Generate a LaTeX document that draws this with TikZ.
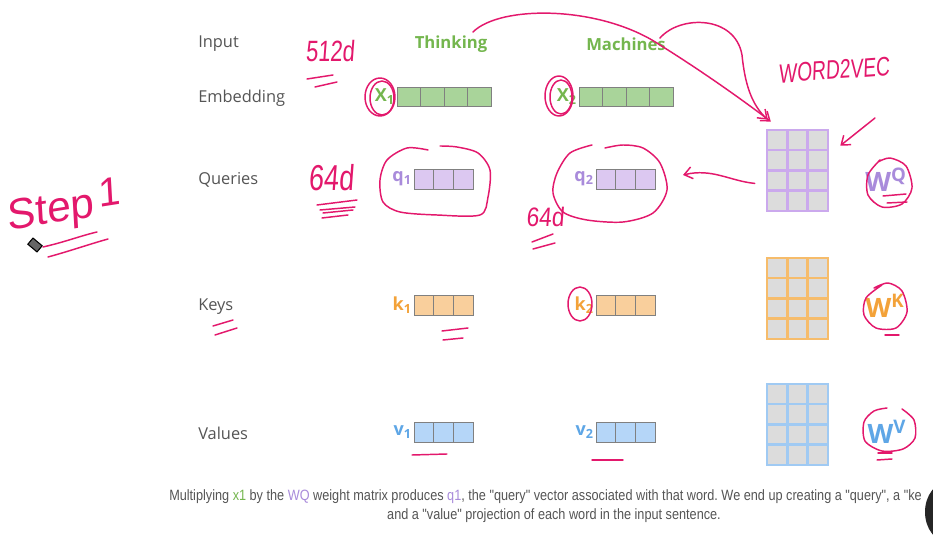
\documentclass[tikz,border=0pt]{standalone}
\usepackage{fontspec}
\setmainfont{Open Sans}
\newfontfamily\capfont[FakeStretch=0.85]{Liberation Sans}
\newfontfamily\handfont[FakeSlant=0.1]{Liberation Sans}
\usetikzlibrary{arrows.meta}
\frenchspacing

\definecolor{labgray}{HTML}{555555}
\definecolor{wordgreen}{HTML}{74B64E}
\definecolor{embfill}{HTML}{A9D49A}
\definecolor{qtext}{HTML}{A98BDB}
\definecolor{qfill}{HTML}{DCC8F1}
\definecolor{qframe}{HTML}{CBA9ED}
\definecolor{ktext}{HTML}{F3A239}
\definecolor{kfill}{HTML}{F9CF9C}
\definecolor{kframe}{HTML}{F6BC6B}
\definecolor{vtext}{HTML}{5EA6E6}
\definecolor{vfill}{HTML}{B5D6F8}
\definecolor{vframe}{HTML}{A0CAF3}
\definecolor{cellgray}{HTML}{DCDCDC}
\definecolor{inkpink}{HTML}{E3186C}

\begin{document}
\begin{tikzpicture}[x=0.75pt,y=-0.75pt,
    rowlabel/.style={anchor=west,text=labgray,inner sep=0pt,font=\fontsize{12.3}{14}\selectfont},
    word/.style={text=wordgreen,font=\fontsize{12.5}{14}\selectfont\bfseries},
    cell/.style={draw=black!50,line width=0.7pt,inner sep=0pt,outer sep=0pt},
    veclabel/.style={anchor=east,inner sep=1.5pt,font=\fontsize{13.5}{15}\selectfont\bfseries},
    mcell/.style={fill=cellgray,line width=1.8pt,inner sep=0pt,minimum width=15.2pt,minimum height=15.1pt},
    wlabel/.style={font=\fontsize{20}{22}\selectfont\bfseries},
    caption/.style={text=labgray,inner sep=0pt,font=\capfont\fontsize{11.2}{13}\selectfont},
    ink/.style={draw=inkpink,line width=1.1pt,line cap=round,line join=round},
    inkarrow/.style={ink,-{Straight Barb[length=6pt,width=9pt]}},
    inktext/.style={text=inkpink,inner sep=0pt}]
    \useasboundingbox (0,0) rectangle (933,538);
    \clip (0,0) rectangle (933,538);
    \fill[white] (0,0) rectangle (933,538);
    % rows
        \foreach \name/\y/\txt in {lin/44/Input,lemb/98/Embedding,lq/180/Queries,lk/307/Keys,lv/433/Values}{
            \node[rowlabel] (\name) at (198,\y) {\txt};
        }
        \node[word] (wThinking) at (451,44) {Thinking};
        \node[word] (wMachines) at (626,44) {Machines};
    % embeddings
        \foreach \n/\x in {1/397,2/579}{
            \foreach \i in {0,...,3}
                \node[cell,fill=embfill,minimum width=17.6pt,minimum height=14.3pt] (x\n-\i) at ({\x+11.75+23.5*\i},97) {};
            \node[veclabel,text=wordgreen] (x\n) at (x\n-0.west) {X\textsubscript{\n}};
        }
    % queries, keys, values
        \foreach \r/\y/\fc/\tc in {q/179/qfill/qtext,k/305/kfill/ktext,v/432/vfill/vtext}{
            \foreach \n/\x in {1/414,2/596}{
                \foreach \i in {0,1,2}
                    \node[cell,fill=\fc,minimum width=14.8pt,minimum height=15pt] (\r\n-\i) at ({\x+9.85+19.7*\i},\y) {};
                \node[veclabel,text=\tc] (\r\n) at (\r\n-0.west) {\r\textsubscript{\n}};
            }
        }
    % weight matrices
        \foreach \m/\y/\fr in {wq/130/qframe,wk/258/kframe,wv/384/vframe}{
            \foreach \row in {0,...,3}
                \foreach \col in {0,1,2}
                    \node[mcell,draw=\fr] (\m-\row\col) at ({777.2+20.3*\col},{\y+10.1+20.2*\row}) {};
            \node[inner sep=0pt,minimum width=45.75pt,minimum height=60.6pt] (\m) at (797.5,{\y+40.4}) {};
        }
        \node[wlabel,text=qtext] (wqlab) at (886,180) {W\textsuperscript{Q}};
        \node[wlabel,text=ktext] (wklab) at (885,306) {W\textsuperscript{K}};
        \node[wlabel,text=vtext] (wvlab) at (887,432) {W\textsuperscript{V}};
    % caption
        \node[caption,anchor=west] (cap1) at (169,497)
            {Multiplying \textcolor{wordgreen}{x1} by the \textcolor{qtext}{WQ} weight matrix produces \textcolor{qtext}{q1}, the "query" vector associated with that word. We end up creating a "query", a "ke};
        \node[caption] (cap2) at (554,516)
            {and a "value" projection of each word in the input sentence.};
        \fill[black!85] (948,512) ellipse [x radius=23, y radius=30];
    % handwriting
        \node[inktext,font=\handfont\fontsize{22}{24}\selectfont,xscale=0.75] (t512) at (330,51) {512d};
        \node[inktext,font=\handfont\fontsize{27}{29}\selectfont,xscale=0.75] (t64a) at (331,178) {64d};
        \node[inktext,font=\handfont\fontsize{20}{22}\selectfont,xscale=0.85] (t64b) at (545,217) {64d};
        \node[inktext,font=\handfont\fontsize{20}{22}\selectfont,xscale=0.72,rotate=3] (tw2v) at (834,70) {WORD2VEC};
        \node[inktext,font=\handfont\fontsize{32}{34}\selectfont,rotate=9] (tstep) at (50,213) {Step};
        \node[inktext,font=\handfont\fontsize{30}{32}\selectfont,rotate=9] (tone) at (108,192) {1};
        \node[draw=black,fill=black!60,line width=0.8pt,minimum width=6pt,minimum height=9pt,inner sep=0pt,rotate=50] (eraser) at (35,245) {};
    % circles
        \draw[ink] (380,97) ellipse [x radius=15, y radius=19];
        \draw[ink] (382,98) ellipse [x radius=12, y radius=17];
        \draw[ink] (559,96) ellipse [x radius=14, y radius=20];
        \draw[ink] (561,97) ellipse [x radius=11, y radius=17];
        \draw[ink] (580,304) ellipse [x radius=12, y radius=17];
        \draw[ink] plot[smooth] coordinates {(428,150) (407,148) (387,160) (380,180) (383,202) (400,212) (437,215) (480,215) (488,197) (490,170) (478,153) (457,147) (440,146)};
        \draw[ink] plot[smooth] coordinates {(592,145) (570,153) (557,173) (553,193) (563,212) (587,220) (623,222) (653,213) (667,190) (660,163) (643,148) (623,145) (605,148)};
        \draw[ink] plot[smooth] coordinates {(880,160) (868,175) (868,195) (882,207) (902,204) (912,188) (906,166) (890,158) (878,162)};
        \draw[ink] plot[smooth] coordinates {(882,285) (866,298) (864,315) (876,328) (896,328) (907,312) (902,291) (888,283) (874,288)};
        \draw[ink] plot[smooth] coordinates {(902,409) (914,420) (915,438) (903,449) (882,451) (865,441) (864,422) (874,411) (887,408)};
    % underlines
        \draw[ink] (307,79) -- (333,75);
        \draw[ink] (315,87) -- (337,82);
        \draw[ink] (317,205) -- (357,200);
        \draw[ink] (320,210) -- (355,207);
        \draw[ink] (323,213) -- (353,210);
        \draw[ink] (322,218) -- (348,215);
        \draw[ink] (532,242) -- (553,234);
        \draw[ink] (533,249) -- (555,243);
        \draw[ink] (43,247) .. controls (65,242) and (80,236) .. (97,232);
        \draw[ink] (48,257) .. controls (70,251) and (90,244) .. (108,239);
        \draw[ink] (213,326) -- (233,320);
        \draw[ink] (215,335) -- (237,328);
        \draw[ink] (442,331) -- (468,328);
        \draw[ink] (443,340) -- (463,338);
        \draw[ink] (412,455) -- (447,454);
        \draw[ink] (592,460) -- (623,460);
        \draw[ink] (883,196) -- (906,194);
        \draw[ink] (887,203) -- (907,202);
        \draw[ink] (885,335) -- (899,335);
        \draw[ink] (878,453) -- (892,453);
        \draw[ink] (877,460) -- (892,459);
    % arrows
        \coordinate (fromThinking) at (473,32);
        \coordinate (fromMachines) at (660,38);
        \coordinate (fromW2V) at (875,118);
        \coordinate (toQ2) at (683,175);
        \draw[inkarrow,shorten >=-1pt] (fromThinking) .. controls (500,5) and (600,5) .. (660,45) .. controls (700,70) and (740,98) .. ([shift={(3,-9)}]wq.north west);
        \draw[inkarrow] (fromMachines) .. controls (680,15) and (735,15) .. (742,55) .. controls (745,85) and (752,105) .. ([shift={(1,-10)}]wq.north west);
        \draw[inkarrow] (fromW2V) -- ([shift={(12,16)}]wq.north east);
        \draw[inkarrow] ([shift={(-12,13)}]wq.west) .. controls (730,181) and (712,168) .. (toQ2);
\end{tikzpicture}
\end{document}
